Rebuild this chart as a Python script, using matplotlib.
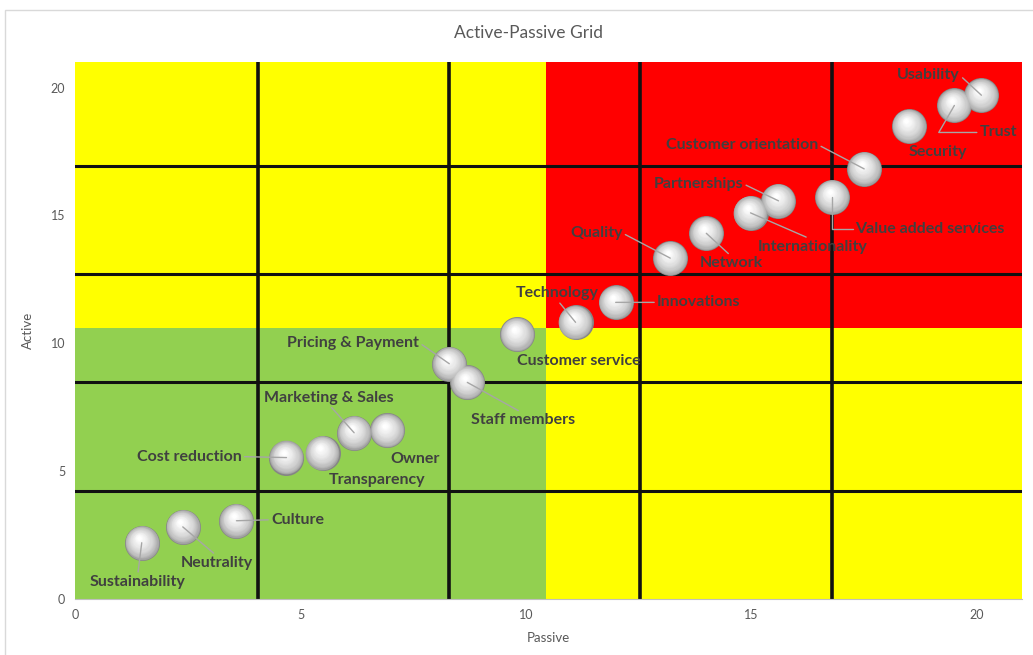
import matplotlib
matplotlib.use("Agg")
import matplotlib.pyplot as plt
from matplotlib.patches import Rectangle
from matplotlib.transforms import offset_copy
import numpy as np

plt.rcParams['font.family'] = ['Lato', 'DejaVu Sans']

# ---------------- data ----------------
labels = ["Sustainability", "Neutrality", "Culture", "Cost reduction", "Transparency",
          "Marketing & Sales", "Owner", "Pricing & Payment", "Staff members",
          "Customer service", "Technology", "Innovations", "Quality", "Network",
          "Internationality", "Partnerships", "Value added services",
          "Customer orientation", "Security", "Trust", "Usability"]
passive = [1.48, 2.39, 3.58, 4.69, 5.49, 6.19, 6.92, 8.30, 8.70, 9.80, 11.10, 11.99,
           13.20, 14.00, 14.98, 15.60, 16.79, 17.50, 18.49, 19.50, 20.10]
active = [2.20, 2.82, 3.06, 5.53, 5.72, 6.50, 6.59, 9.20, 8.47, 10.35, 10.82, 11.60,
          13.33, 14.30, 15.10, 15.57, 15.73, 16.82, 18.50, 19.30, 19.70]

x_ticks = [0, 5, 10, 15, 20]
y_ticks = [0, 5, 10, 15, 20]
grid_x = [4.05, 8.30, 12.54, 16.79]
grid_y = [4.24, 8.47, 12.71, 16.94]
split_x = 10.44
split_y = 10.59
axis_max = 21.0

# label layout: (dx px, dy px, relpos for leader or None, connection style)
label_layout = {
    "Sustainability": (-4, -39, (0.5, 1.0), None),
    "Neutrality": (34, -36, (0.5, 1.0), None),
    "Culture": (61, 1, (0.0, 0.5), None),
    "Cost reduction": (-97, 1, (1.0, 0.5), None),
    "Transparency": (54, -27, None, None),
    "Marketing & Sales": (-25, 35, (0.5, 0.0), None),
    "Owner": (28, -29, None, None),
    "Pricing & Payment": (-96, 21, (1.0, 0.5), None),
    "Staff members": (56, -38, (0.5, 1.0), None),
    "Customer service": (62, -27, None, None),
    "Technology": (-18, 29, (0.5, 0.0), None),
    "Innovations": (83, 0, (0.0, 0.5), None),
    "Quality": (-74, 25, (1.0, 0.5), None),
    "Network": (25, -30, (0.5, 1.0), None),
    "Internationality": (62, -34, (0.5, 1.0), None),
    "Partnerships": (-80, 17, (1.0, 0.5), None),
    "Value added services": (98, -32, (0.0, 0.5), "angle,angleA=0,angleB=90,rad=0"),
    "Customer orientation": (-122, 24, (1.0, 0.5), None),
    "Security": (29, -26, None, None),
    "Trust": (44, -27, (0.0, 0.5), "angle,angleA=0,angleB=60,rad=0"),
    "Usability": (-53, 20, (1.0, 0.5), None),
}

# ---------------- figure ----------------
fig = plt.figure(figsize=(10.33, 6.55), dpi=100)
# chart border
fig.patches.append(Rectangle((5 / 1033, -0.01), 1.2, 1 - 10 / 655 + 0.01,
                             transform=fig.transFigure, fill=False,
                             edgecolor="#d9d9d9", linewidth=1.0))
ax = fig.add_axes([75 / 1033, 1 - 599 / 655, (1022 - 75) / 1033, (599 - 62) / 655])
ax.set_xlim(0, axis_max)
ax.set_ylim(0, axis_max)

yellow = "#ffff00"
red = "#ff0000"
green = "#92d050"
ax.add_patch(Rectangle((0, 0), axis_max, axis_max, color=yellow, zorder=0, lw=0))
ax.add_patch(Rectangle((0, 0), split_x, split_y, color=green, zorder=0.5, lw=0))
ax.add_patch(Rectangle((split_x, split_y), axis_max - split_x, axis_max - split_y,
                       color=red, zorder=0.5, lw=0))
for gx in grid_x:
    ax.axvline(gx, color="#111111", lw=2.6, zorder=1)
for gy in grid_y:
    ax.axhline(gy, color="#111111", lw=2.2, zorder=1)

# ---------------- spheres ----------------
r_px = 17.5
n_layers = 24
for i in range(n_layers):
    t = i / (n_layers - 1)
    rad = r_px * (1 - 0.88 * t)
    dx = -0.15 * r_px * t
    dy = 0.28 * r_px * t
    g = 0.52 + 0.48 * (t ** 0.45)
    col = (g, g, g)
    tr = offset_copy(ax.transData, fig=fig, x=dx, y=dy, units='dots')
    s = (2 * rad * 72 / 100) ** 2
    ax.scatter(passive, active, s=s, color=col, transform=tr, zorder=3 + i * 0.01,
               linewidths=0, clip_on=False)

# ---------------- labels ----------------
for name, px, py in zip(labels, passive, active):
    dx, dy, rel, conn = label_layout[name]
    kw = {}
    if rel is not None:
        ap = dict(arrowstyle='-', color="#a6a6a6", lw=1.0, shrinkA=0, shrinkB=0,
                  relpos=rel)
        if conn:
            ap['connectionstyle'] = conn
        kw['arrowprops'] = ap
    ax.annotate(name, xy=(px, py), xytext=(dx, dy), textcoords='offset pixels',
                ha='center', va='center', fontsize=11.5, fontweight='bold',
                color="#404040", zorder=5, annotation_clip=False, **kw)

# ---------------- axes cosmetics ----------------
ax.set_xticks(x_ticks)
ax.set_yticks(y_ticks)
ax.tick_params(length=0, labelsize=9, colors="#595959", pad=7)
for side in ["top", "right", "left"]:
    ax.spines[side].set_visible(False)
ax.spines["bottom"].set_color("#bfbfbf")
ax.spines["bottom"].set_zorder(6)
ax.set_xlabel("Passive", fontsize=9.5, color="#595959", labelpad=8)
ax.set_ylabel("Active", fontsize=9.5, color="#595959", labelpad=12)
fig.text(528 / 1033, 1 - 33 / 655, "Active-Passive Grid", ha='center', va='center',
         fontsize=12.5, color="#595959")

fig.savefig("out.png", dpi=100)
